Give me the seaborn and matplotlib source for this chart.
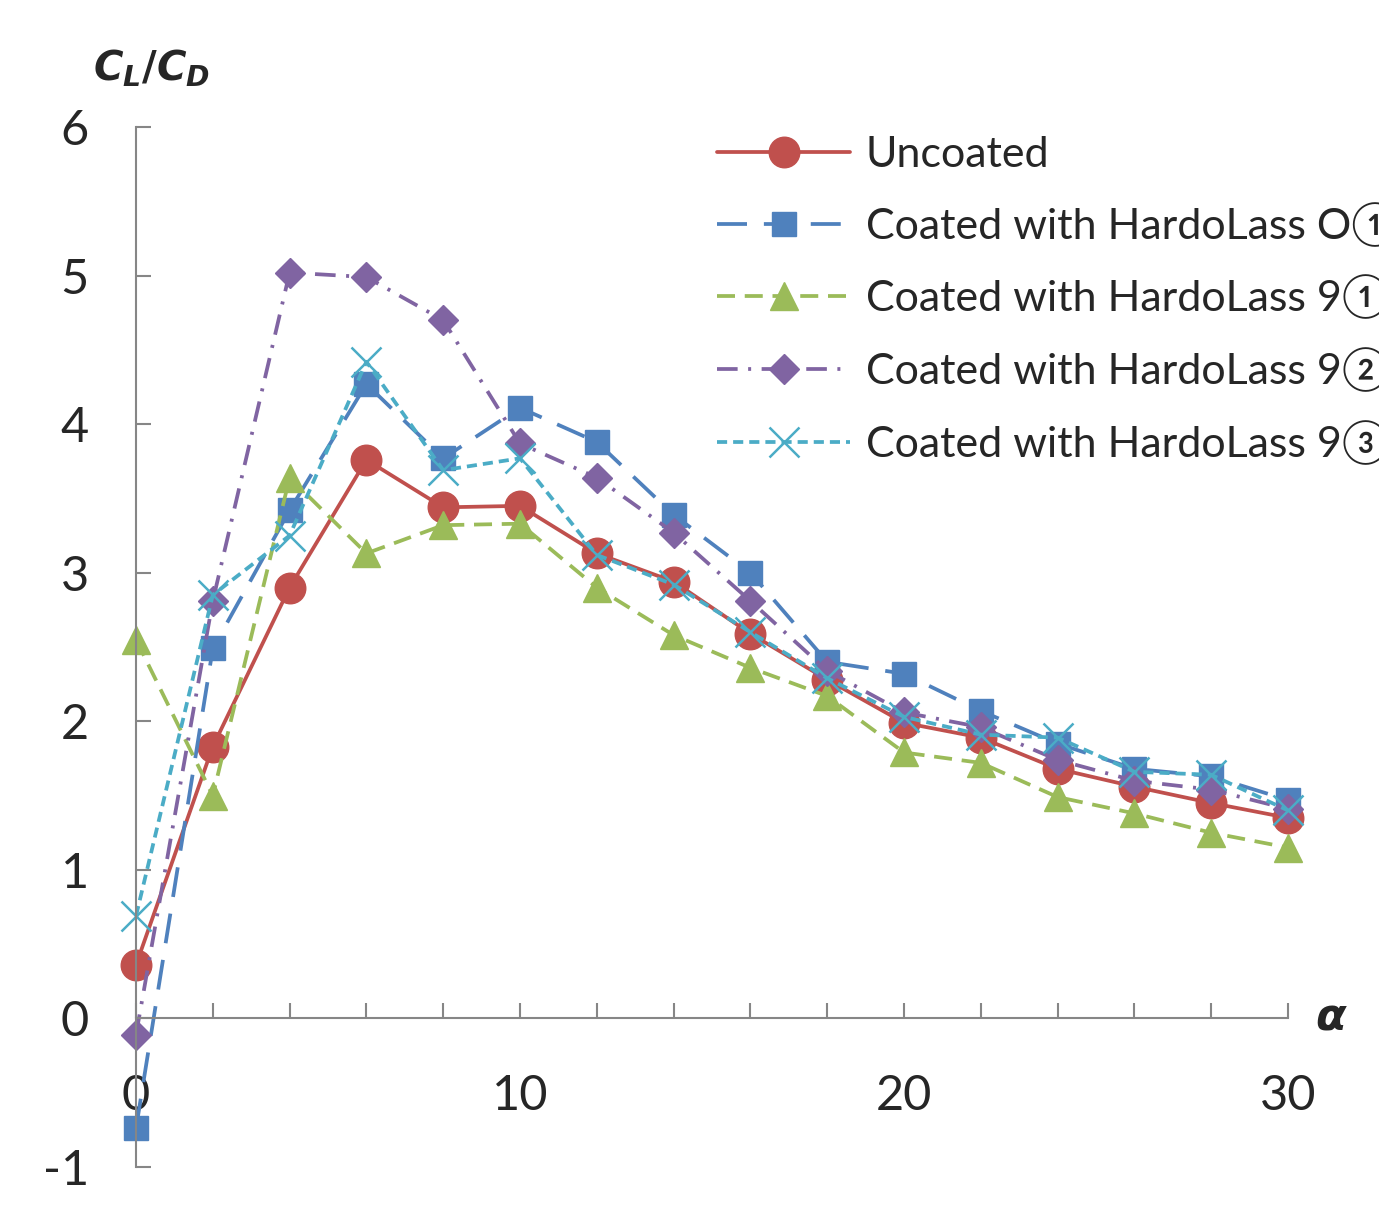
import numpy as np
import pandas as pd
import matplotlib
matplotlib.use('Agg')
import matplotlib.pyplot as plt
from matplotlib.ticker import MultipleLocator
import seaborn as sns

# angle of attack
alpha = [0, 2, 4, 6, 8, 10, 12, 14, 16, 18, 20, 22, 24, 26, 28, 30]

# CL/CD for each sample
uncoated = [0.36, 1.83, 2.90, 3.76, 3.44, 3.45, 3.13, 2.94, 2.59, 2.28,
            1.99, 1.89, 1.68, 1.56, 1.45, 1.35]
hardo_o = [-0.74, 2.49, 3.42, 4.27, 3.77, 4.11, 3.88, 3.39, 3.00, 2.40,
           2.32, 2.07, 1.85, 1.68, 1.63, 1.47]
hardo_9_1 = [2.55, 1.50, 3.64, 3.13, 3.32, 3.33, 2.90, 2.58, 2.36, 2.17,
             1.79, 1.72, 1.49, 1.38, 1.25, 1.15]
hardo_9_2 = [-0.11, 2.81, 5.02, 4.99, 4.70, 3.87, 3.64, 3.27, 2.81, 2.34,
             2.06, 1.96, 1.74, 1.60, 1.54, 1.41]
hardo_9_3 = [0.69, 2.85, 3.25, 4.42, 3.69, 3.77, 3.12, 2.92, 2.60, 2.29,
             2.03, 1.91, 1.89, 1.66, 1.64, 1.40]

labels = ['Uncoated',
          'Coated with HardoLass O\u2460',
          'Coated with HardoLass 9\u2460',
          'Coated with HardoLass 9\u2461',
          'Coated with HardoLass 9\u2462']
series = [uncoated, hardo_o, hardo_9_1, hardo_9_2, hardo_9_3]

colors = ['#C0504D', '#4F81BD', '#9BBB59', '#8064A2', '#4BACC6']
markers = ['o', 's', '^', 'D', 'x']
msizes = [22, 17, 20, 15, 21]
dashes = ['', (8, 4.5), (4.8, 2.6), (5.5, 2.8, 0.8, 2.8), (2.7, 1.6)]

rows = []
for lab, vals in zip(labels, series):
    for a, v in zip(alpha, vals):
        rows.append({'alpha': a, 'ratio': v, 'series': lab})
df = pd.DataFrame(rows)

sns.set_style('white')
plt.rcParams['font.family'] = ['Lato', 'Noto Sans CJK JP', 'DejaVu Sans']
plt.rcParams['axes.unicode_minus'] = False
plt.rcParams['mathtext.fontset'] = 'custom'
plt.rcParams['mathtext.it'] = 'DejaVu Sans:italic:bold'
plt.rcParams['mathtext.rm'] = 'DejaVu Sans:bold'

fig = plt.figure(figsize=(13.79, 12.16), dpi=100)
ax = fig.add_axes([136 / 1379, 1 - 1167 / 1216, (1288 - 136) / 1379, (1167 - 127) / 1216])

# seaborn won't mix filled and line markers, so the 'x' is swapped in afterwards
sns.lineplot(data=df, x='alpha', y='ratio', hue='series', style='series',
             hue_order=labels, style_order=labels,
             palette=dict(zip(labels, colors)),
             markers=dict(zip(labels, ['o', 's', '^', 'D', 'o'])),
             dashes=dict(zip(labels, dashes)),
             linewidth=2.7, errorbar=None, legend=False, ax=ax)

lines = ax.get_lines()
for line, c, m, ms in zip(lines, colors, markers, msizes):
    line.set_marker(m)
    line.set_markeredgecolor(c)
    line.set_markerfacecolor(c)
    line.set_markersize(ms)
    line.set_markeredgewidth(1.8 if m == 'x' else 1.0)
    line.set_clip_on(False)

ax.set_xlim(0, 30)
ax.set_ylim(-1, 6)
ax.set_xlabel('')
ax.set_ylabel('')

for s in ['top', 'right']:
    ax.spines[s].set_visible(False)
ax.spines['bottom'].set_position(('data', 0))
for s in ['left', 'bottom']:
    ax.spines[s].set_color('#868686')
    ax.spines[s].set_linewidth(1.5)

ax.xaxis.set_major_locator(MultipleLocator(10))
ax.xaxis.set_minor_locator(MultipleLocator(2))
ax.yaxis.set_major_locator(MultipleLocator(1))
ax.tick_params(axis='x', which='both', direction='in', length=11, width=1.5,
               color='#868686', bottom=True, pad=40, labelsize=35)
ax.tick_params(axis='y', which='major', direction='in', length=11, width=1.5,
               color='#868686', left=True, pad=34, labelsize=35)

fig.text(93 / 1379, 1 - 68 / 1216, r'$C_L/C_D$', fontsize=29, va='center', ha='left')
fig.text(1315 / 1379, 1 - 1018 / 1216, '\u03b1', fontsize=32, style='italic',
         fontweight='bold', family='DejaVu Sans', va='center', ha='left')

ax.legend(handles=lines, labels=labels, loc='upper left',
          bbox_to_anchor=(717 / 1379, 1 - 136 / 1216), bbox_transform=fig.transFigure,
          frameon=False, fontsize=31, handlelength=3.1, handletextpad=0.35,
          labelspacing=0.65, borderpad=0, borderaxespad=0)

plt.savefig('out.png', dpi=100)
